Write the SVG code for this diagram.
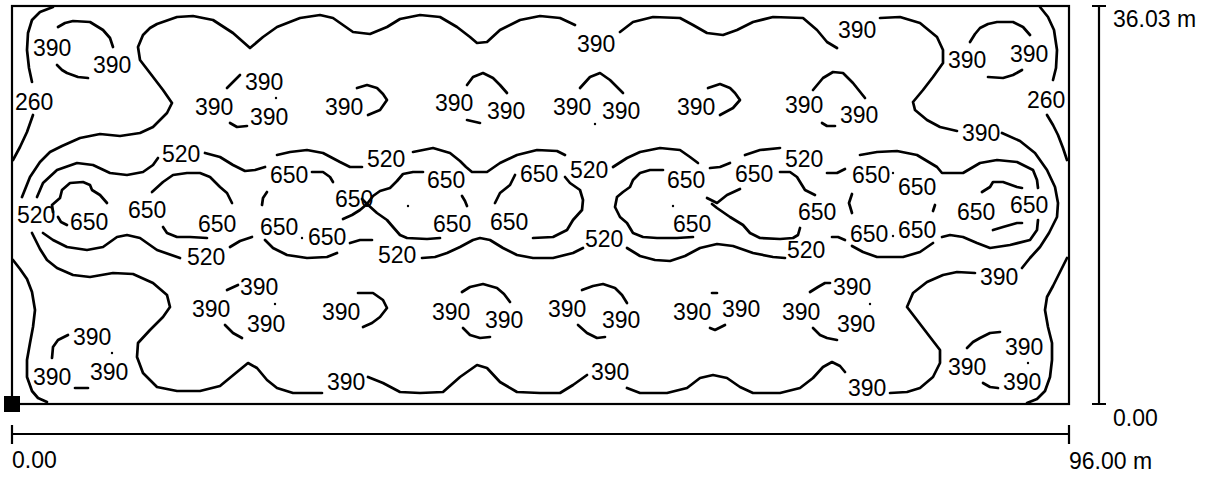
<svg xmlns="http://www.w3.org/2000/svg" width="1210" height="477" viewBox="0 0 1210 477">
<style>
.c{fill:none;stroke:#000;stroke-width:2.7;stroke-linecap:round;stroke-linejoin:round}
.f{fill:none;stroke:#000;stroke-width:2.2}
text{font-family:"Liberation Sans",Arial,sans-serif;font-size:23px;fill:#000}
</style>
<rect width="1210" height="477" fill="#fff"/>
<g id="frame">
<rect class="f" x="12" y="6" width="1057" height="398"/>
<rect x="4" y="396" width="16" height="16" fill="#000"/>
</g>
<g id="scale">
<path class="f" d="M12,434H1069M12,425V444M1069,425V444M1099,6V404M1092,6H1106M1092,404H1106"/>
<text x="12" y="468">0.00</text>
<text x="1069" y="469">96.00 m</text>
<text x="1113" y="27">36.03 m</text>
<text x="1113" y="426">0.00</text>
</g>
<g id="contours">
<polyline class="c" points="53,7 40,12 32,20 28,33 27,50 29,68 32,82"/>
<polyline class="c" points="33,115 27,132 20,147 13,160"/>
<polyline class="c" points="13,260 20,269 27,279 32,292 35,310 33,327 30,343 27,360 27,377 32,391 38,398 47,402"/>
<polyline class="c" points="1040,7 1048,17 1054,30 1057,50 1056,68 1053,80"/>
<polyline class="c" points="1047,115 1053,125 1058,135 1063,148 1067,160"/>
<polyline class="c" points="1067,258 1060,272 1053,286 1047,297 1045,310 1048,327 1052,343 1052,360 1050,377 1045,391 1037,399 1027,403"/>
<polyline class="c" points="22,197 30,177 40,162 50,152 62,146 80,138 100,134 120,136 140,133 153,127 167,113 172,103 163,90 150,73 140,60 138,47 143,35 150,28 157,24 177,17 193,16 213,20 233,33 250,48 263,37 277,27 300,18 320,15 333,18 353,32 370,34 387,27 400,19 420,15 440,17 457,27 470,37 477,43 487,42 500,30 520,20 540,16 560,18 575,25"/>
<polyline class="c" points="620,32 633,22 653,17 680,18 693,25 707,33 723,35 737,30 753,22 773,17 803,18 817,30 827,42 837,48"/>
<polyline class="c" points="880,18 900,17 920,23 937,37 943,50 943,63 933,77 923,90 913,102 915,110 927,120 940,127 957,131"/>
<polyline class="c" points="1002,133 1020,141 1035,153 1047,170 1055,187 1058,203 1057,217 1049,233 1040,247 1030,258 1022,268"/>
<polyline class="c" points="975,273 957,272 943,275 927,282 913,293 907,307 917,320 930,337 940,350 940,363 933,377 920,388 907,392 890,393"/>
<polyline class="c" points="845,372 840,366 832,362 823,367 813,378 800,388 780,393 753,393 740,387 727,378 713,375 700,378 687,388 667,393 640,393 627,388"/>
<polyline class="c" points="587,375 573,385 560,393 540,393 517,392 500,382 487,368 477,365 460,377 443,392 420,393 400,392 383,383 368,377"/>
<polyline class="c" points="322,393 293,393 277,388 267,380 257,368 248,363 237,372 220,386 200,391 177,391 157,387 143,373 137,357 138,343 150,330 163,317 170,307 167,295 153,283 133,274 113,273 90,277 73,275 57,268 47,260 40,249 32,233"/>
<polyline class="c" points="37,197 43,183 57,170 77,163 93,165 110,173 127,175 143,172 153,165 158,158"/>
<polyline class="c" points="205,153 220,157 233,165 245,171 255,170 265,167"/>
<polyline class="c" points="312,172 323,172 330,177 333,182"/>
<polyline class="c" points="277,155 290,152 307,150 323,153 340,162 350,167 362,167"/>
<polyline class="c" points="413,152 433,148 450,153 460,161 466,167 472,172 487,172 500,163 517,155 537,150 557,151 565,155"/>
<polyline class="c" points="613,167 627,158 640,152 660,148 680,150 690,157 698,163"/>
<polyline class="c" points="710,168 720,167 730,163"/>
<polyline class="c" points="745,155 760,150 780,148"/>
<polyline class="c" points="780,172 790,172 797,177 805,190 815,195"/>
<polyline class="c" points="827,173 837,173 845,169"/>
<polyline class="c" points="860,155 877,152 897,151 917,155 937,167 942,173 963,173 980,163 997,160 1017,162 1033,170 1037,180 1038,188"/>
<polyline class="c" points="1038,220 1037,230 1030,240 1010,245 990,248 977,243 963,237 950,235 942,237"/>
<polyline class="c" points="832,237 838,237 845,240"/>
<polyline class="c" points="627,248 640,256 655,260 670,261 685,256 700,248 717,244 733,246 753,253 773,257 785,258"/>
<polyline class="c" points="422,258 435,257 447,253 460,247 473,240 480,238 490,240 503,248 517,255 533,258 553,258 573,253 583,248"/>
<polyline class="c" points="350,243 360,240 372,240"/>
<polyline class="c" points="230,247 240,241 252,237"/>
<polyline class="c" points="43,233 53,240 67,247 87,250 103,247 117,237 127,235 140,238 157,250 180,258"/>
<polyline class="c" points="53,212 52,205 60,198 62,190 70,183 83,182 90,185 92,190 100,195 107,203"/>
<polyline class="c" points="58,217 61,222 67,225"/>
<polyline class="c" points="152,192 163,182 173,175 187,173 200,173 210,177 220,187 227,193 232,203"/>
<polyline class="c" points="163,227 167,233 177,237 190,237 207,238"/>
<polyline class="c" points="267,192 263,198 262,205"/>
<polyline class="c" points="265,240 273,248 287,255 307,258 327,257 337,253"/>
<polyline class="c" points="343,219 352,215 360,210 367,204 373,196 380,191 390,188 397,181 403,174 413,172 423,172"/>
<polyline class="c" points="362,199 367,204 377,213 387,220 393,227 400,235 407,238 427,239 440,238"/>
<polyline class="c" points="462,196 465,201 467,206"/>
<polyline class="c" points="515,175 510,185 500,193 495,203"/>
<polyline class="c" points="565,177 570,183 580,190 583,200 582,210 573,220 567,230 553,237 533,238"/>
<polyline class="c" points="663,170 650,170 640,173 633,180 630,187 623,192 617,197 615,207 620,217 627,223 633,233 643,237 657,238 677,238 693,237"/>
<polyline class="c" points="707,198 717,203 727,195 740,189"/>
<polyline class="c" points="712,204 717,208 730,217 743,225 750,233 760,238 780,239 793,238 798,235 800,228"/>
<polyline class="c" points="852,194 849,203 852,213"/>
<polyline class="c" points="935,205 933,211"/>
<polyline class="c" points="852,246 863,252 877,257 903,257 920,252 933,243"/>
<polyline class="c" points="982,192 990,187 993,182 1003,182 1017,187 1022,188"/>
<polyline class="c" points="993,230 1003,227 1017,223 1022,223"/>
<polyline class="c" points="58,27 65,23 73,21 90,22 103,30 110,38 113,47"/>
<polyline class="c" points="57,65 62,70 67,73 78,77 88,78"/>
<polyline class="c" points="970,42 975,34 980,28 988,24 997,22 1013,22 1023,27 1030,35"/>
<polyline class="c" points="988,77 1003,78 1013,75 1022,70"/>
<polyline class="c" points="227,88 240,75"/>
<polyline class="c" points="230,123 237,127 247,126"/>
<polyline class="c" points="357,88 367,85 377,88 383,94 387,100 380,110 368,115"/>
<polyline class="c" points="467,85 473,77 483,73 493,78 500,85 507,93"/>
<polyline class="c" points="467,120 480,123"/>
<polyline class="c" points="580,88 590,77 600,73 610,80 617,87 623,93"/>
<polyline class="c" points="708,88 720,84 730,88 735,93 740,100 733,108 720,115"/>
<polyline class="c" points="813,90 818,84 823,78 833,72 843,73 853,83 865,98"/>
<polyline class="c" points="822,123 827,126 835,126"/>
<polyline class="c" points="227,290 238,285"/>
<polyline class="c" points="225,325 233,333 242,338"/>
<polyline class="c" points="358,293 373,293 383,300 387,308 380,317 372,323 363,327"/>
<polyline class="c" points="462,292 470,287 483,284 497,288 504,294 510,302"/>
<polyline class="c" points="463,328 470,335 480,338 490,337"/>
<polyline class="c" points="582,290 593,286 603,284 615,288 622,295 627,303"/>
<polyline class="c" points="578,325 587,333 597,338 605,337"/>
<polyline class="c" points="712,293 717,293"/>
<polyline class="c" points="710,328 715,330 725,325"/>
<polyline class="c" points="810,292 818,287 825,283 830,283"/>
<polyline class="c" points="813,328 820,335 827,338 837,340"/>
<polyline class="c" points="68,335 58,340 53,347 52,358"/>
<polyline class="c" points="75,388 88,388"/>
<polyline class="c" points="967,348 973,342 980,338 990,333 1000,332"/>
<polyline class="c" points="983,383 990,387 998,388"/>
</g>
<g id="dots" fill="#000">
<circle cx="276" cy="98" r="1.2"/><circle cx="595" cy="124" r="1.2"/><circle cx="408" cy="206" r="1.2"/>
<circle cx="673" cy="206" r="1.2"/><circle cx="275" cy="304" r="1.2"/><circle cx="112" cy="353" r="1.2"/>
<circle cx="870" cy="304" r="1.2"/><circle cx="1028" cy="363" r="1.2"/><circle cx="302" cy="238" r="1.2"/>
<circle cx="893" cy="173" r="1.2"/><circle cx="893" cy="236" r="1.2"/>
</g>
<g id="labels">
<text x="33" y="56">390</text><text x="93" y="73">390</text><text x="15" y="110">260</text>
<text x="245" y="90">390</text><text x="195" y="115">390</text><text x="250" y="125">390</text>
<text x="325" y="115">390</text><text x="435" y="111">390</text><text x="487" y="119">390</text>
<text x="553" y="115">390</text><text x="602" y="119">390</text><text x="577" y="52">390</text>
<text x="677" y="115">390</text><text x="785" y="113">390</text><text x="840" y="123">390</text>
<text x="838" y="38">390</text><text x="948" y="68">390</text><text x="1010" y="62">390</text>
<text x="1027" y="108">260</text><text x="962" y="141">390</text>
<text x="162" y="162">520</text><text x="367" y="167">520</text><text x="570" y="178">520</text>
<text x="785" y="167">520</text><text x="17" y="223">520</text>
<text x="70" y="230">650</text><text x="128" y="218">650</text><text x="198" y="232">650</text>
<text x="270" y="183">650</text><text x="335" y="207">650</text><text x="260" y="235">650</text>
<text x="308" y="245">650</text><text x="427" y="188">650</text><text x="520" y="182">650</text>
<text x="433" y="232">650</text><text x="490" y="230">650</text><text x="667" y="188">650</text>
<text x="735" y="182">650</text><text x="673" y="232">650</text><text x="798" y="220">650</text>
<text x="852" y="183">650</text><text x="898" y="195">650</text><text x="850" y="242">650</text>
<text x="898" y="238">650</text><text x="957" y="220">650</text><text x="1010" y="213">650</text>
<text x="187" y="265">520</text><text x="378" y="263">520</text><text x="585" y="247">520</text>
<text x="787" y="258">520</text>
<text x="980" y="285">390</text><text x="240" y="295">390</text><text x="192" y="317">390</text>
<text x="247" y="332">390</text><text x="322" y="320">390</text><text x="432" y="320">390</text>
<text x="485" y="328">390</text><text x="548" y="317">390</text><text x="602" y="328">390</text>
<text x="673" y="320">390</text><text x="722" y="317">390</text><text x="782" y="320">390</text>
<text x="833" y="295">390</text><text x="837" y="332">390</text><text x="73" y="345">390</text>
<text x="33" y="385">390</text><text x="90" y="380">390</text><text x="327" y="390">390</text>
<text x="591" y="380">390</text><text x="848" y="396">390</text><text x="948" y="375">390</text>
<text x="1005" y="355">390</text><text x="1003" y="390">390</text>
</g>
</svg>
